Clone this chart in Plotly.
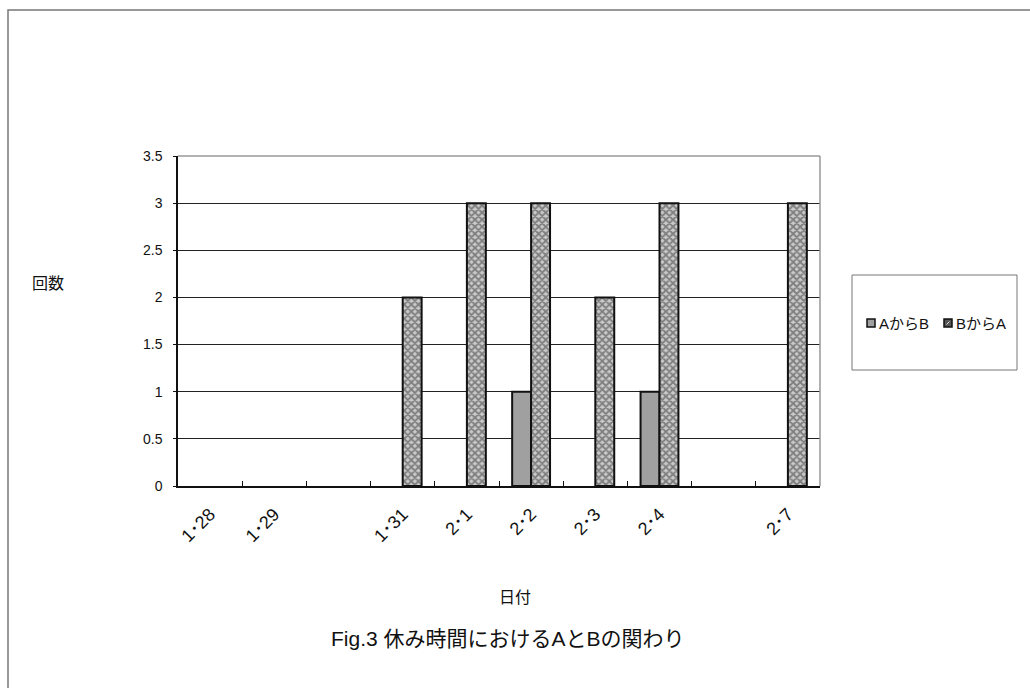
import plotly.graph_objects as go

# Data
dates = ["1･28", "1･29", " ", "1･31", "2･1", "2･2", "2･3", "2･4", "  ", "2･7"]
a_to_b = [0, 0, 0, 0, 0, 1, 0, 1, 0, 0]
b_to_a = [0, 0, 0, 2, 3, 3, 2, 3, 0, 3]
y_ticks = [0, 0.5, 1, 1.5, 2, 2.5, 3, 3.5]
series_names = ["AからB", "BからA"]

FONT = "Liberation Sans, Noto Sans CJK JP, sans-serif"
W, H = 1030, 688
L, R, T, B = 178, 210, 156, 202
PW, PH = W - L - R, H - T - B


def px(x):
    return (x - L) / PW


def py(y):
    return (H - B - y) / PH


def outline(values):
    # no outline on empty bars so nothing shows for zero counts
    return [2 if v else 0 for v in values]


fig = go.Figure()
fig.add_trace(go.Bar(
    x=dates, y=a_to_b, name=series_names[0],
    marker=dict(color="#a0a0a0", line=dict(color="#111", width=outline(a_to_b))),
))
fig.add_trace(go.Bar(
    x=dates, y=b_to_a, name=series_names[1],
    marker=dict(
        color="#b0b0b0",
        line=dict(color="#111", width=outline(b_to_a)),
        pattern=dict(shape="x", fgcolor="#333", bgcolor="#cacaca", size=5, solidity=0.6),
    ),
))

shapes = [
    # outer frame of the chart
    dict(type="rect", xref="paper", yref="paper",
         x0=px(8), x1=px(1040), y0=py(700), y1=py(10),
         line=dict(color="#777", width=1.5), fillcolor="rgba(0,0,0,0)", layer="below"),
    # plot area border (top and right)
    dict(type="line", xref="paper", yref="paper", x0=0, x1=1, y0=1, y1=1,
         line=dict(color="#999", width=1.5), layer="above"),
    dict(type="line", xref="paper", yref="paper", x0=1, x1=1, y0=0, y1=1,
         line=dict(color="#999", width=1.5), layer="above"),
    # legend box
    dict(type="rect", xref="paper", yref="paper",
         x0=px(852), x1=px(1017), y0=py(370), y1=py(275),
         line=dict(color="#777", width=1), fillcolor="white"),
    # legend keys
    dict(type="rect", xref="paper", yref="paper",
         x0=px(867), x1=px(875), y0=py(327), y1=py(319),
         line=dict(color="#111", width=1.5), fillcolor="#a0a0a0"),
    dict(type="rect", xref="paper", yref="paper",
         x0=px(944), x1=px(952), y0=py(327), y1=py(319),
         line=dict(color="#111", width=1.5), fillcolor="#555"),
    dict(type="line", xref="paper", yref="paper",
         x0=px(946.5), x1=px(949.5), y0=py(324.5), y1=py(321.5),
         line=dict(color="#ddd", width=1)),
]

annotations = [
    dict(text=series_names[0], x=px(877), y=py(323), xanchor="left", yanchor="middle",
         font=dict(size=15, color="#111")),
    dict(text=series_names[1], x=px(954), y=py(323), xanchor="left", yanchor="middle",
         font=dict(size=15, color="#111")),
    dict(text="回数", x=px(48), y=py(283), xanchor="center", yanchor="middle",
         font=dict(size=16, color="#111")),
    dict(text="日付", x=px(515), y=py(597), xanchor="center", yanchor="middle",
         font=dict(size=16, color="#111")),
    dict(text="Fig.3 休み時間におけるAとBの関わり", x=px(508), y=py(638),
         xanchor="center", yanchor="middle", font=dict(size=21, color="#111")),
]
for a in annotations:
    a.update(xref="paper", yref="paper", showarrow=False)

fig.update_layout(
    width=W, height=H,
    margin=dict(l=L, r=R, t=T, b=B, pad=0),
    paper_bgcolor="white", plot_bgcolor="white",
    font=dict(family=FONT, color="#111"),
    barmode="group", bargap=0.41, bargroupgap=0,
    showlegend=False,
    shapes=shapes, annotations=annotations,
    xaxis=dict(
        type="category", categoryorder="array", categoryarray=dates,
        tickson="boundaries", ticks="inside", ticklen=5, tickcolor="#111", tickwidth=1,
        showline=True, linecolor="#111", linewidth=1.5,
        showgrid=False, tickangle=-45, tickfont=dict(size=18),
        ticklabelstandoff=9, fixedrange=True,
    ),
    yaxis=dict(
        range=[0, 3.5], tickvals=y_ticks, ticks="outside", ticklen=3, tickcolor="#111",
        showline=True, linecolor="#111", linewidth=1.5,
        showgrid=True, gridcolor="#222", gridwidth=1, zeroline=False,
        tickfont=dict(size=14), ticklabelstandoff=8, fixedrange=True,
    ),
)

fig.write_html("out.html")
